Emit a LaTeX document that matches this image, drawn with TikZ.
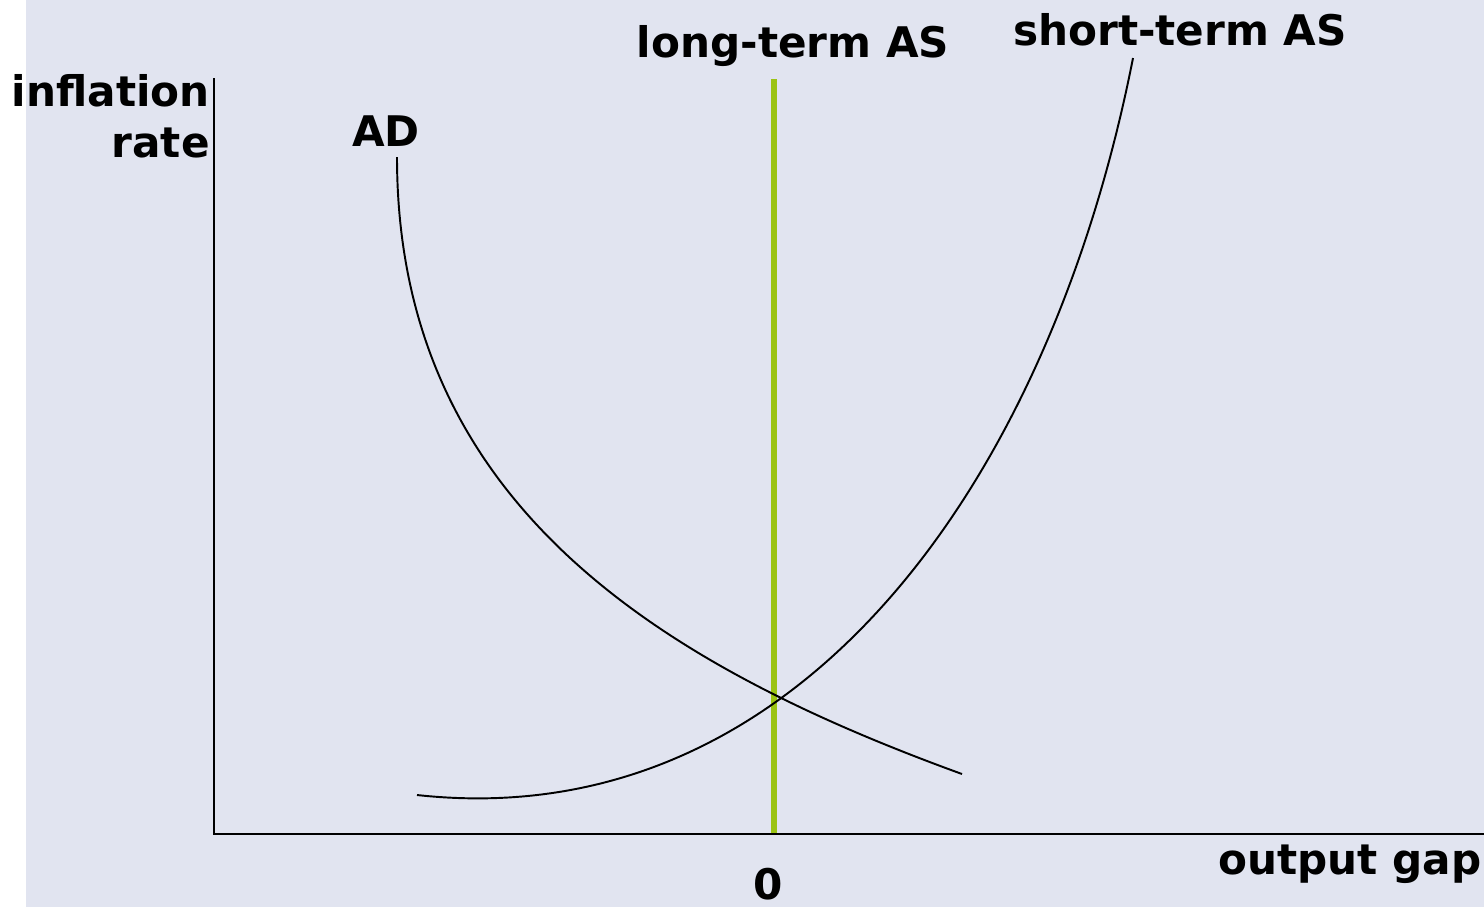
\documentclass[tikz,border=0pt]{standalone}
\usepackage{fontspec}
\setmainfont{DejaVu Sans}
\usetikzlibrary{positioning}

\definecolor{bgblue}{RGB}{225,228,240}
\definecolor{lasgreen}{RGB}{155,195,20}

\newcommand*{\xorig}{214}
\newcommand*{\yorig}{834}
\newcommand*{\xright}{1484}
\newcommand*{\ytop}{78}

\begin{document}
\begin{tikzpicture}
[
	x=0.02cm,
	y=-0.02cm,
	lbl/.style={font=\fontsize{24}{29}\selectfont\bfseries,inner sep=0pt},
	curve/.style={line width=1.1pt},
	axis/.style={line width=1.6pt}
]

	% background
	\fill[white] (0,0) rectangle (26,907);
	\fill[bgblue] (26,0) rectangle (1484,907);
	\useasboundingbox (0,0) rectangle (1484,907);

	% long-term AS
	\coordinate (las0) at (774,\yorig);
	\coordinate (las1) at (774,79);
	\draw[lasgreen,line width=3.6pt] (las0) -- (las1);

	% axes
	\coordinate (O) at (\xorig,\yorig);
	\coordinate (yend) at (\xorig,\ytop);
	\coordinate (xend) at (\xright,\yorig);
	\draw[axis] (yend) -- (O) -- (xend);

	% AD
	\coordinate (ad0) at (397,157);
	\coordinate (ad1) at (962,774);
	\draw[curve] (ad0) .. controls (397,505) and (662,665) .. (ad1);

	% short-term AS
	\coordinate (sas0) at (417,795);
	\coordinate (sas1) at (1133,58);
	\draw[curve] (sas0) .. controls (800,837) and (1050,480) .. (sas1);

	% labels
	\node[lbl,align=right,anchor=east] (ylab) at (210,116) {inflation\\rate};
	\node[lbl] (adlab) at (386,131) {AD};
	\node[lbl] (laslab) at (793,46) {long-term AS};
	\node[lbl] (saslab) at (1180,30) {short-term AS};
	\node[lbl] (xlab) at (1350,864) {output gap};
	\node[lbl] (zero) at (768,884) {0};

\end{tikzpicture}
\end{document}
